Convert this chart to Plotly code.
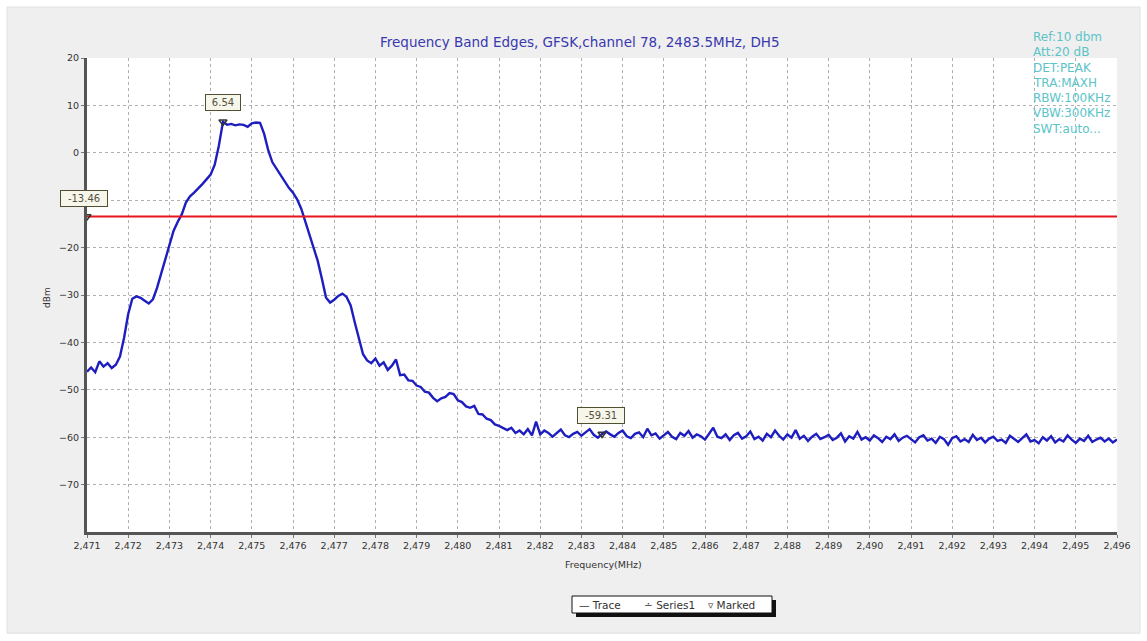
import numpy as np
import plotly.graph_objects as go

# ---------------- data ----------------
FREQ_START = 2471.0   # MHz, first sweep point
FREQ_STEP = 0.1       # MHz, sweep step
TRACE_DBM = [
    # 2471.0 - 2471.9
    -46.2, -45.3, -46.3, -44.0, -45.1, -44.4, -45.4, -44.7, -43.0, -39.0,
    # 2472
    -34.0, -30.8, -30.3, -30.6, -31.2, -31.8, -30.9, -28.5, -25.5, -22.3,
    # 2473
    -19.2, -16.5, -14.6, -13.0, -10.5, -9.2, -8.4, -7.6, -6.6, -5.6,
    # 2474
    -4.6, -2.5, 1.5, 6.54, 5.9, 6.1, 5.8, 6.0, 5.9, 5.5,
    # 2475
    6.2, 6.4, 6.3, 4.0, 0.5, -2.0, -3.4, -4.6, -6.2, -7.4,
    # 2476
    -8.4, -9.8, -11.8, -14.6, -17.2, -20.0, -22.8, -26.5, -30.5, -31.6,
    # 2477
    -31.0, -30.2, -29.7, -30.4, -32.2, -35.8, -39.0, -42.5, -43.8, -44.4,
    # 2478
    -43.4, -44.9, -44.2, -45.8, -44.9, -43.6, -46.9, -46.8, -48.0, -48.1,
    # 2479
    -49.1, -49.4, -50.4, -50.6, -51.7, -52.4, -51.8, -51.5, -50.7, -50.9,
    # 2480
    -52.2, -52.6, -53.5, -53.8, -53.4, -55.1, -55.2, -56.1, -56.4, -57.3,
    # 2481
    -57.6, -58.1, -58.5, -58.0, -59.1, -58.6, -59.4, -58.3, -59.6, -56.7,
    # 2482
    -59.4, -58.6, -59.1, -59.9, -59.2, -58.4, -59.6, -60.0, -59.3, -58.9,
    # 2483
    -59.7, -59.0, -58.3, -59.5, -60.1, -59.31, -58.8, -59.4, -59.9, -59.1,
    # 2484
    -58.6, -59.8, -60.2, -59.3, -59.0, -60.0, -58.2, -59.6, -59.2, -60.3,
    # 2485
    -59.5, -58.9, -59.9, -60.4, -59.1, -59.7, -58.7, -60.1, -59.4, -59.8,
    # 2486
    -60.5, -59.2, -58.0, -59.9, -60.2, -59.4, -60.6, -59.6, -59.1, -60.3,
    # 2487
    -59.8, -58.8, -60.4, -59.9, -60.7, -59.3, -60.0, -58.6, -59.7, -60.5,
    # 2488
    -59.4, -60.1, -58.5, -60.3, -59.7, -60.8, -59.9, -59.3, -60.4, -60.0,
    # 2489
    -59.5, -60.6, -60.1, -59.2, -60.9, -59.8, -60.3, -58.9, -60.5, -60.0,
    # 2490
    -60.7, -59.6, -60.2, -61.0, -59.9, -60.4, -59.4, -60.8, -60.1, -59.7,
    # 2491
    -60.5, -61.1, -60.0, -59.6, -60.7, -60.3, -61.2, -59.9, -60.4, -61.6,
    # 2492
    -60.2, -59.8, -60.9, -60.4, -61.0, -59.5, -60.6, -60.1, -61.1, -60.3,
    # 2493
    -59.9, -60.8, -60.5, -61.2, -59.7, -60.4, -61.0, -60.2, -59.4, -60.9,
    # 2494
    -60.6, -61.3, -60.0, -60.7, -59.8, -61.1, -60.4, -60.9, -59.6, -60.5,
    # 2495
    -61.2, -60.3, -60.8, -59.7, -61.0, -60.5, -60.1, -60.9, -60.3, -61.1,
    # 2496.0
    -60.5,
]
LIMIT_FREQ = [2471.0, 2496.0]
LIMIT_DBM = [-13.46, -13.46]
MARK_FREQ = [2474.3, 2471.0, 2483.5]
MARK_DBM = [6.54, -13.46, -59.31]
MARK_TEXT = ["6.54", "-13.46", "-59.31"]
X_TICKS = list(range(2471, 2497))
X_TICK_LABELS = ["2,%03d" % (v - 2000) for v in X_TICKS]
Y_TICKS = [20, 10, 0, -10, -20, -30, -40, -50, -60, -70]
TITLE = "Frequency Band Edges, GFSK,channel 78, 2483.5MHz, DH5"
SETTINGS = ["Ref:10 dbm", "Att:20 dB", "DET:PEAK", "TRA:MAXH",
            "RBW:100KHz", "VBW:300KHz", "SWT:auto..."]
LEGEND_ITEMS = ["\u2014 Trace", "\u2238 Series1", "\u25bf Marked"]

freq = np.round(FREQ_START + FREQ_STEP * np.arange(len(TRACE_DBM)), 2)

# ---------------- layout helpers ----------------
W, H = 1147, 641
L, R, T, B = 87, 30, 58, 109
PW, PH = W - L - R, H - T - B


def px(x):
    return (x - L) / PW


def py(y):
    return (H - B - y) / PH


FONT = "DejaVu Sans"

fig = go.Figure()
fig.add_trace(go.Scatter(x=freq, y=TRACE_DBM, mode="lines", name="Trace",
                         line=dict(color="#1e1ec0", width=2.4)))
fig.add_trace(go.Scatter(x=LIMIT_FREQ, y=LIMIT_DBM, mode="lines", name="Series1",
                         line=dict(color="#e8141e", width=2)))
fig.add_trace(go.Scatter(x=MARK_FREQ, y=MARK_DBM, mode="markers", name="Marked",
                         marker=dict(symbol="triangle-down-open", size=7,
                                     color="#333333", line=dict(width=1.5))))

annotations = []
shifts = [(0, 19), (-3, 18), (-1, 18)]
for f, v, t, (dx, dy) in zip(MARK_FREQ, MARK_DBM, MARK_TEXT, shifts):
    annotations.append(dict(x=f, y=v, xref="x", yref="y", text=t, showarrow=False,
                            xshift=dx, yshift=dy, width=len(t) * 6 + 8, height=13,
                            font=dict(family=FONT, size=10, color="#555040"),
                            bgcolor="#f6f6ea", bordercolor="#505030", borderwidth=1,
                            borderpad=1))
annotations.append(dict(x=px(580), y=py(42), xref="paper", yref="paper", text=TITLE,
                        showarrow=False, xanchor="center", yanchor="middle",
                        font=dict(family=FONT, size=13.5, color="#3838b0")))
for i, s in enumerate(SETTINGS):
    annotations.append(dict(x=px(1031), y=py(37 + i * 15.3), xref="paper", yref="paper",
                            text=s, showarrow=False, xanchor="left", yanchor="middle",
                            font=dict(family=FONT, size=12, color="#5cc4c8")))
annotations.append(dict(x=px(47), y=py(298), xref="paper", yref="paper", text="dBm",
                        textangle=-90, showarrow=False, xanchor="center", yanchor="middle",
                        font=dict(family=FONT, size=9, color="#333333")))
annotations.append(dict(x=px(603), y=py(564), xref="paper", yref="paper",
                        text="Frequency(MHz)", showarrow=False,
                        xanchor="center", yanchor="middle",
                        font=dict(family=FONT, size=9.5, color="#333333")))
# legend (drawn as text in a box)
for s, xl in zip(LEGEND_ITEMS, [577, 642, 706]):
    annotations.append(dict(x=px(xl), y=py(605), xref="paper", yref="paper",
                            text=s, showarrow=False, xanchor="left", yanchor="middle",
                            font=dict(family=FONT, size=10.5, color="#333333")))

shapes = [
    # white outer frame around the grey panel
    dict(type="rect", xref="paper", yref="paper", x0=px(0), x1=px(W), y0=py(H), y1=py(0),
         line=dict(color="white", width=14), layer="below"),
    dict(type="rect", xref="paper", yref="paper", x0=px(7), x1=px(1140), y0=py(633), y1=py(7),
         line=dict(color="#e2e2e2", width=1), layer="below"),
    # legend shadow and box
    dict(type="rect", xref="paper", yref="paper", x0=px(576), x1=px(776), y0=py(617), y1=py(600),
         fillcolor="#111111", line=dict(width=0), layer="above"),
    dict(type="rect", xref="paper", yref="paper", x0=px(572), x1=px(772), y0=py(613), y1=py(596),
         fillcolor="white", line=dict(color="#111111", width=1), layer="above"),
]

fig.update_layout(
    width=W, height=H, autosize=False,
    margin=dict(l=L, r=R, t=T, b=B),
    paper_bgcolor="#efefef", plot_bgcolor="white",
    font=dict(family=FONT, size=10, color="#333333"),
    showlegend=False,
    annotations=annotations,
    shapes=shapes,
    xaxis=dict(range=[2471, 2496], tickvals=X_TICKS, ticktext=X_TICK_LABELS,
               showgrid=True, gridcolor="#b0b0b0", griddash="dot", gridwidth=1,
               showline=True, linecolor="#555555", linewidth=3,
               ticks="outside", ticklen=3, tickcolor="#777777",
               tickfont=dict(family=FONT, size=9.5, color="#333333"), zeroline=False),
    yaxis=dict(range=[-80, 20], tickvals=Y_TICKS,
               showgrid=True, gridcolor="#b0b0b0", griddash="dot", gridwidth=1,
               showline=True, linecolor="#555555", linewidth=3,
               ticks="outside", ticklen=3, tickcolor="#777777",
               tickfont=dict(family=FONT, size=9.5, color="#333333"), zeroline=False),
)

fig.write_html("out.html", config={"displayModeBar": False},
               post_script="document.body.style.margin='0';")
